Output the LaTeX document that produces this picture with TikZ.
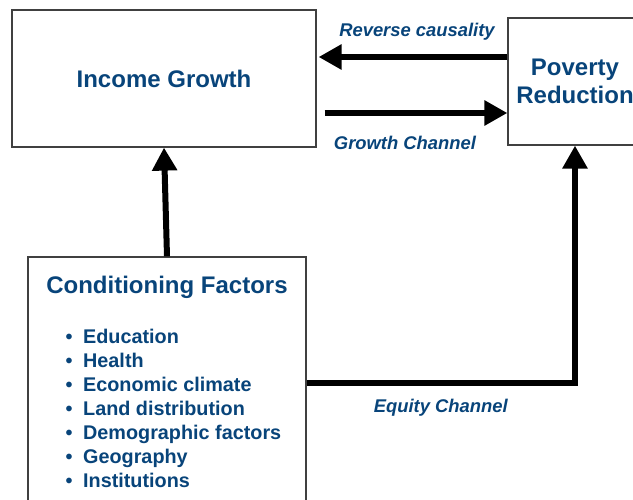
\documentclass[tikz,border=0pt]{standalone}
\usepackage{fontspec}
\setmainfont{Liberation Sans}
\usetikzlibrary{arrows.meta}
\definecolor{darkblue}{RGB}{8,68,122}
\newcommand{\itm}[1]{\makebox[17.5pt][l]{\textbullet}#1}

\begin{document}
\begin{tikzpicture}[x=1pt, y=-1pt, main/.style = {draw=black!75, line width=1.2pt, rectangle, inner sep=0pt},
		head/.style = {text=darkblue, font=\fontsize{24}{28}\selectfont\bfseries, align=center},
		lab/.style = {text=darkblue, font=\fontsize{18.4}{22}\selectfont\bfseries\itshape},
		arr/.style = {-{Triangle[length=23pt, width=24pt]}, line width=6pt}] 
		\useasboundingbox (0,0) rectangle (633,499);
		\node[main, head, minimum width=304pt, minimum height=137pt] (1) at (164,78.5) {Income Growth}; 
		\node[main, head, minimum width=134pt, minimum height=127pt] (2) at (575,81.5) {Poverty\\Reduction}; 
		\node[main, minimum width=278pt, minimum height=260pt] (3) at (167,387) {}; 
		\node[head] (3a) at (167,287) {Conditioning Factors}; 
		\node[text=darkblue, font=\fontsize{19.8}{24}\selectfont\bfseries, align=left, anchor=west, inner sep=0pt] (3b) at (65.5,408.5) {\itm{Education}\\ \itm{Health}\\ \itm{Economic climate}\\ \itm{Land distribution}\\ \itm{Demographic factors}\\ \itm{Geography}\\ \itm{Institutions}}; 
		\draw[arr, shorten >=2pt] (2.west |- 0,57) -- (1.east |- 0,57) node[lab, midway, yshift=25pt, xshift=5pt] {Reverse causality};
		\draw[arr, shorten <=8pt] (1.east |- 0,113) -- (2.west |- 0,113) node[lab, midway, yshift=-30pt, xshift=-7pt] {Growth Channel};
		\draw[arr] (3.north) -- (1.south);
		\draw[arr] (3.east |- 0,383) -| (2.south) node[lab, pos=0.25, yshift=-25pt] {Equity Channel};
	\end{tikzpicture}
\end{document}
